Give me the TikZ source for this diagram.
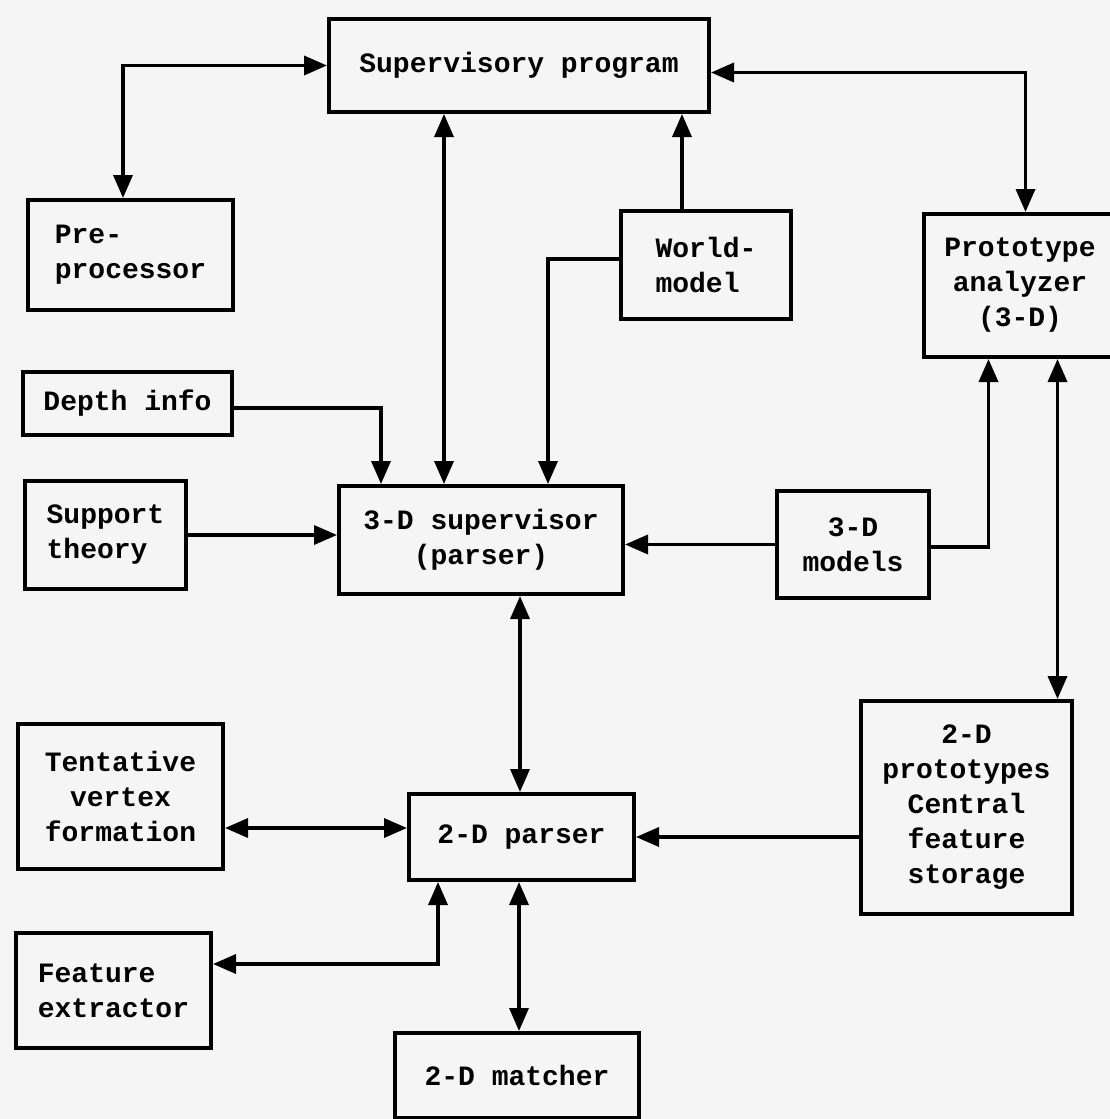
\documentclass[tikz,border=0pt]{standalone}
\usepackage{fontspec}
\setmonofont{Liberation Mono}
\usetikzlibrary{arrows.meta,calc}
\begin{document}
\begin{tikzpicture}[x=1pt,y=-1pt,
  blk/.style={draw=black,line width=4pt,inner sep=0pt,anchor=north west,align=left,
    font=\ttfamily\bfseries\fontsize{28}{35}\selectfont},
  conn/.style={line width=3.5pt,-{Triangle[length=23pt,width=19pt]}},
  bconn/.style={line width=3.5pt,{Triangle[length=23pt,width=19pt]}-{Triangle[length=23pt,width=19pt]}}]
\useasboundingbox[fill=black!4] (0,0) rectangle (1110,1119);
% boxes
\node[blk,minimum width=380pt,minimum height=93pt] (sup) at (327,17) {Supervisory program};
\node[blk,minimum width=205pt,minimum height=110pt] (pre) at (26,198) {Pre-\\processor};
\node[blk,minimum width=209pt,minimum height=63pt] (depth) at (21,370) {Depth info};
\node[blk,minimum width=161pt,minimum height=108pt] (supp) at (23,479) {Support\\theory};
\node[blk,minimum width=284pt,minimum height=108pt,align=center] (tds) at (337,484) {3-D supervisor\\(parser)};
\node[blk,minimum width=170pt,minimum height=108pt] (world) at (619,209) {World-\\model};
\node[blk,minimum width=192pt,minimum height=143pt,align=center] (proto) at (922,212) {Prototype\\analyzer\\(3-D)};
\node[blk,minimum width=152pt,minimum height=107pt,align=center] (models) at (775,489) {3-D\\models};
\node[blk,minimum width=211pt,minimum height=213pt,align=center] (ptypes) at (859,699) {2-D\\prototypes\\Central\\feature\\storage};
\node[blk,minimum width=225pt,minimum height=86pt] (tdp) at (407,792) {2-D parser};
\node[blk,minimum width=205pt,minimum height=145pt,align=center] (tent) at (16,722) {Tentative\\vertex\\formation};
\node[blk,minimum width=195pt,minimum height=115pt] (feat) at (14,931) {Feature\\extractor};
\node[blk,minimum width=244pt,minimum height=85pt] (match) at (393,1031) {2-D matcher};
% helper coordinates
\coordinate (c1) at ([xshift=-7.5pt]pre.north);
\coordinate (c2) at ([xshift=-75pt]sup.south);
\coordinate (c3) at ([xshift=-24pt]world.north);
\coordinate (c4) at ([yshift=6pt]world.west);
\coordinate (c5) at ([xshift=67pt]tds.north);
\coordinate (c6) at ([yshift=-4.5pt]depth.east);
\coordinate (c7) at ([xshift=-100pt]tds.north);
\coordinate (c8) at ([yshift=-7pt]sup.east);
\coordinate (c9) at ([xshift=5.5pt]proto.north);
\coordinate (c10) at ([yshift=-2.5pt]models.east);
\coordinate (c11) at ([xshift=-31.5pt]proto.south);
\coordinate (c12) at ([xshift=37.5pt]proto.south);
\coordinate (c13) at ([xshift=39pt]tds.south);
\coordinate (c14) at ([yshift=9pt]tdp.west);
\coordinate (c15) at ([xshift=-83.5pt]tdp.south);
\coordinate (c16) at ([yshift=26.5pt]feat.east);
\coordinate (c17) at ([xshift=-2.5pt]tdp.south);
% connectors
\draw[bconn] (sup.west) -| (c1);
\draw[bconn] (c2) -- (c2 |- tds.north);
\draw[conn] (c3) -- (c3 |- sup.south);
\draw[conn] (c4) -| (c5);
\draw[conn] (c6) -| (c7);
\draw[conn] (supp.east) -- (supp.east -| tds.west);
\draw[bconn] (c8) -| (c9);
\draw[conn] (models.west) -- (models.west -| tds.east);
\draw[conn] (c10) -| (c11);
\draw[bconn] (c12) -- (c12 |- ptypes.north);
\draw[bconn] (c13) -- (c13 |- tdp.north);
\draw[conn] (ptypes.west |- tdp.east) -- (tdp.east);
\draw[bconn] (c14 -| tent.east) -- (c14);
\draw[bconn] (c15) |- (c16);
\draw[bconn] (c17) -- (c17 |- match.north);
\end{tikzpicture}
\end{document}
